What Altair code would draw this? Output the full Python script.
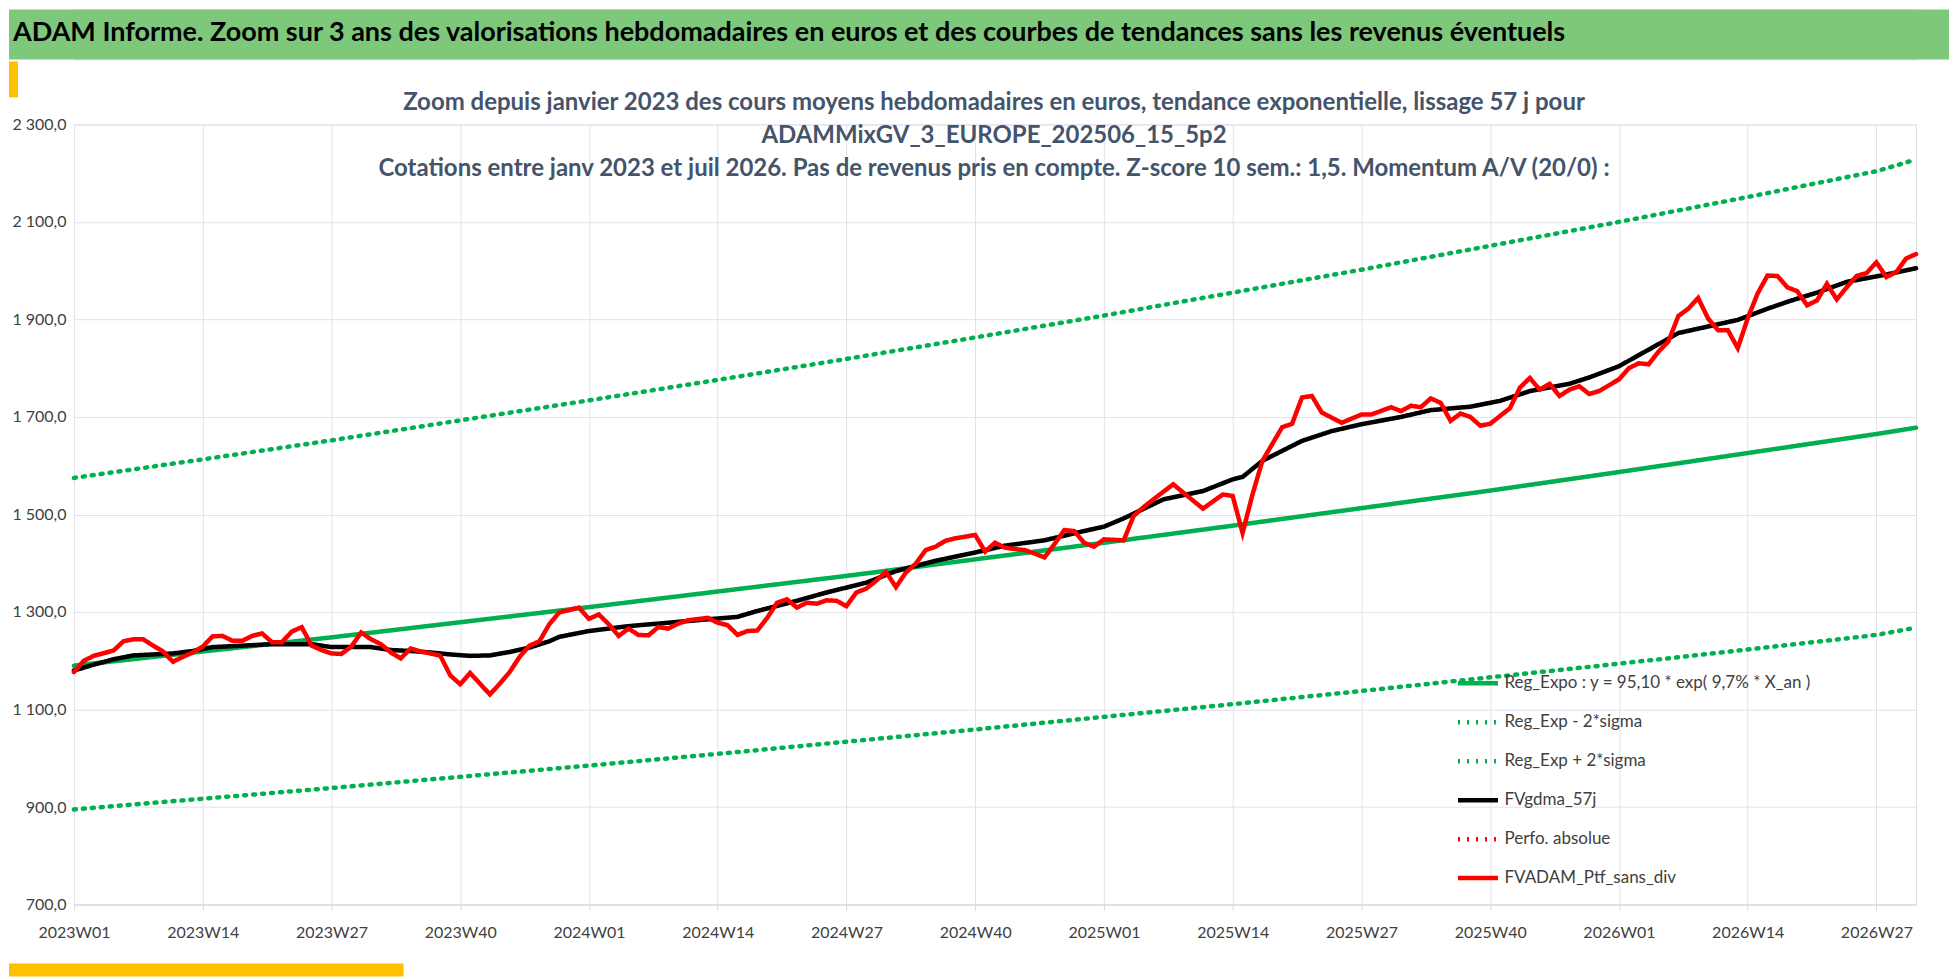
import altair as alt
import pandas as pd

# ---- data ----
trend_weeks = [0, 13, 26, 39, 52, 65, 78, 91, 104, 117, 130, 143, 156, 169, 182, 186]
reg_expo = [1190, 1219, 1248, 1279, 1310, 1342, 1374, 1408, 1442, 1477, 1513, 1549, 1587, 1626, 1665, 1678]
reg_minus = [895, 917, 939, 962, 985, 1009, 1034, 1059, 1085, 1111, 1138, 1166, 1194, 1223, 1253, 1268]
reg_plus = [1575, 1613, 1652, 1693, 1734, 1776, 1819, 1863, 1908, 1955, 2002, 2051, 2100, 2151, 2204, 2228]

gdma_weeks = [0, 2, 4, 6, 8, 10, 12, 14, 16, 18, 20, 22, 24, 26, 28, 30, 32, 34, 36, 38, 40, 42, 44, 46, 48, 49,
              52, 56, 60, 64, 67, 69, 73, 76, 80, 83, 87, 91, 94, 98, 102, 104, 106, 110, 114, 117, 118, 120,
              124, 127, 130, 134, 137, 141, 144, 147, 151, 153, 156, 159, 162, 166, 168, 171, 173, 176, 179, 183, 186]
gdma_vals = [1180, 1192, 1203, 1211, 1213, 1215, 1220, 1228, 1230, 1232, 1234, 1234, 1234, 1228, 1228, 1228, 1222,
             1220, 1217, 1213, 1210, 1211, 1218, 1227, 1240, 1249, 1261, 1271, 1278, 1285, 1290, 1302, 1323, 1340,
             1360, 1384, 1405, 1422, 1436, 1447, 1466, 1475, 1492, 1531, 1548, 1572, 1577, 1610, 1651, 1671, 1685,
             1700, 1714, 1721, 1733, 1753, 1768, 1781, 1804, 1838, 1872, 1890, 1899, 1922, 1936, 1955, 1977, 1992, 2005]

ptf_weeks = [0, 1, 2, 4, 5, 6, 7, 8, 9, 10, 11, 12, 13, 14, 15, 16, 17, 18, 19, 20, 21, 22, 23, 24, 25, 26, 27, 28,
             29, 30, 31, 32, 33, 34, 35, 36, 37, 38, 39, 40, 41, 42, 43, 44, 45, 46, 47, 48, 49, 51, 52, 53, 54, 55,
             56, 57, 58, 59, 60, 61, 62, 64, 65, 66, 67, 68, 69, 70, 71, 72, 73, 74, 75, 76, 77, 78, 79, 80, 81, 82,
             83, 84, 85, 86, 87, 88, 89, 91, 92, 93, 94, 95, 96, 97, 98, 99, 100, 101, 102, 103, 104, 105, 106, 107,
             108, 109, 111, 112, 114, 116, 117, 118, 119, 120, 122, 123, 124, 125, 126, 128, 130, 131, 133, 134, 135,
             136, 137, 138, 139, 140, 141, 142, 143, 145, 146, 147, 148, 149, 150, 151, 152, 153, 154, 156, 157, 158,
             159, 160, 161, 162, 163, 164, 165, 166, 167, 168, 169, 170, 171, 172, 173, 174, 175, 176, 177, 178, 179,
             180, 181, 182, 183, 184, 185, 186]
ptf_vals = [1177, 1200, 1210, 1221, 1240, 1244, 1244, 1231, 1219, 1198, 1208, 1217, 1229, 1250, 1251, 1241, 1241,
            1251, 1256, 1238, 1238, 1260, 1269, 1231, 1222, 1215, 1214, 1229, 1258, 1244, 1234, 1217, 1205, 1225,
            1219, 1215, 1210, 1170, 1152, 1175, 1153, 1131, 1153, 1177, 1208, 1231, 1240, 1275, 1299, 1309, 1286,
            1295, 1275, 1251, 1266, 1253, 1252, 1269, 1266, 1276, 1283, 1288, 1278, 1273, 1253, 1261, 1262, 1288,
            1319, 1326, 1309, 1319, 1317, 1324, 1323, 1312, 1340, 1348, 1364, 1382, 1351, 1381, 1399, 1427, 1434,
            1446, 1451, 1458, 1424, 1442, 1432, 1429, 1427, 1420, 1412, 1439, 1468, 1466, 1442, 1434, 1449, 1448,
            1447, 1497, 1515, 1531, 1562, 1545, 1512, 1541, 1538, 1462, 1541, 1610, 1679, 1686, 1740, 1743, 1709,
            1688, 1705, 1705, 1720, 1712, 1723, 1720, 1738, 1729, 1692, 1707, 1700, 1682, 1686, 1718, 1760, 1780,
            1756, 1768, 1743, 1756, 1763, 1747, 1753, 1777, 1800, 1810, 1808, 1834, 1855, 1907, 1922, 1944, 1902,
            1878, 1878, 1841, 1902, 1953, 1990, 1989, 1966, 1958, 1929, 1939, 1973, 1941, 1966, 1989, 1995, 2017,
            1987, 1997, 2025, 2034]

tick_weeks = [0, 13, 26, 39, 52, 65, 78, 91, 104, 117, 130, 143, 156, 169, 182]
series_names = ["Reg_Expo : y = 95,10 * exp( 9,7% *  X_an )", "Reg_Exp - 2*sigma", "Reg_Exp + 2*sigma",
                "FVgdma_57j", "Perfo. absolue", "FVADAM_Ptf_sans_div"]
series_colors = ["#00B050", "#00B050", "#00B050", "#000000", "#FF0000", "#FF0000"]
series_dash = [[1, 0], [2, 7], [2, 7], [1, 0], [2, 7], [1, 0]]

title_main = "ADAM Informe. Zoom sur 3 ans des valorisations hebdomadaires en euros et des courbes de tendances sans les revenus éventuels"
subtitle_lines = ["Zoom depuis janvier 2023 des cours moyens hebdomadaires  en euros, tendance exponentielle, lissage 57 j pour",
                  "ADAMMixGV_3_EUROPE_202506_15_5p2",
                  "Cotations entre janv 2023 et juil 2026. Pas de revenus pris en compte. Z-score 10 sem.: 1,5. Momentum  A/V (20/0) :"]

rows = []
for name, vals in zip(series_names[:3], [reg_expo, reg_minus, reg_plus]):
    rows += [{"s": name, "w": w, "v": v} for w, v in zip(trend_weeks, vals)]
rows += [{"s": series_names[3], "w": w, "v": v} for w, v in zip(gdma_weeks, gdma_vals)]
rows += [{"s": series_names[5], "w": w, "v": v} for w, v in zip(ptf_weeks, ptf_vals)]
df = pd.DataFrame(rows)

FONT = "Lato"
W, H = 1844, 781

xlab = ("toString(2023 + floor(datum.value / 52)) + 'W' + "
        "((datum.value % 52 + 1) < 10 ? '0' : '') + toString(datum.value % 52 + 1)")
ylab = "replace(replace(format(datum.value, ',.1f'), ',', ' '), '.', ',')"

lines = alt.Chart(df).mark_line(strokeCap="round", strokeWidth=4.5).encode(
    x=alt.X("w:Q", scale=alt.Scale(domain=[0, 186], nice=False, zero=False),
            axis=alt.Axis(values=tick_weeks, labelExpr=xlab, title=None, grid=True, gridColor="#E1E3EA",
                          domainColor="#D9D9D9", tickColor="#D9D9D9", tickSize=6, labelPadding=14,
                          labelFlush=False, labelOverlap=False,
                          labelFont=FONT, labelFontSize=16, labelColor="#404040")),
    y=alt.Y("v:Q", scale=alt.Scale(domain=[700, 2300], nice=False, zero=False),
            axis=alt.Axis(values=list(range(700, 2301, 200)), labelExpr=ylab, title=None, grid=True,
                          gridColor="#E1E3EA", domain=False, ticks=False, labelPadding=8,
                          minExtent=65, maxExtent=65,
                          labelFont=FONT, labelFontSize=16, labelColor="#404040")),
    color=alt.Color("s:N", scale=alt.Scale(domain=series_names, range=series_colors),
                    legend=alt.Legend(title=None, orient="none", legendX=1383, legendY=652,
                                      symbolType="stroke", symbolSize=1600, symbolStrokeWidth=4.5,
                                      rowPadding=7, labelFont=FONT, labelFontSize=17,
                                      labelColor="#404040", labelLimit=500)),
    strokeDash=alt.StrokeDash("s:N", scale=alt.Scale(domain=series_names, range=series_dash), legend=None),
    detail="s:N",
)

sub_df = pd.DataFrame({"t": subtitle_lines, "i": [0, 1, 2]})
subs = alt.Chart(sub_df).mark_text(font=FONT, fontSize=24, fontWeight="bold", color="#44546A").encode(
    x=alt.value(921),
    y=alt.Y("i:O", axis=None, scale=alt.Scale(range=[-21, 45], padding=0)),
    text="t:N",
)

deco_df = pd.DataFrame({"k": ["a"]})
bar_left = alt.Chart(deco_df).mark_rect(color="#FFC000").encode(
    x=alt.value(-65), x2=alt.value(-56), y=alt.value(-63), y2=alt.value(-27))
bar_bottom = alt.Chart(deco_df).mark_rect(color="#FFC000").encode(
    x=alt.value(-65), x2=alt.value(330), y=alt.value(840), y2=alt.value(853))

main = alt.layer(bar_left, bar_bottom, lines, subs).resolve_scale(y="independent").properties(width=W, height=H)

banner_df = pd.DataFrame({"t": [title_main]})
banner_bg = alt.Chart(banner_df).mark_rect(color="#7DC87A").encode(
    x=alt.value(-65), x2=alt.value(1877), y=alt.value(0), y2=alt.value(50))
banner_txt = alt.Chart(banner_df).mark_text(font=FONT, fontSize=27, fontWeight="bold", color="#000000",
                                            align="left", baseline="middle").encode(
    x=alt.value(-61), y=alt.value(24), text="t:N")
banner = alt.layer(banner_bg, banner_txt).properties(width=W, height=50)

chart = alt.vconcat(banner, main, spacing=0).configure_view(stroke=None).configure(
    padding=0, background="white"
)
chart.save("out.html", embed_options={"renderer": "svg", "actions": False})
